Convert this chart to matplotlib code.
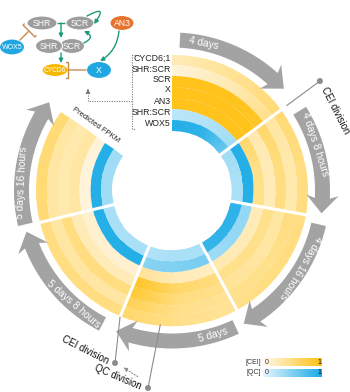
import numpy as np
import matplotlib

matplotlib.use("Agg")
import matplotlib.pyplot as plt
from matplotlib.colors import LinearSegmentedColormap
from matplotlib.patches import Wedge, Ellipse, Polygon, Circle, FancyArrowPatch

plt.rcParams["font.family"] = ["Liberation Sans", "DejaVu Sans"]

# ring order from outside to inside
genes = ["CYCD6;1", "SHR:SCR", "SCR", "X", "AN3", "SHR:SCR", "WOX5"]
stages = ["4 days", "4 days 8 hours", "4 days 16 hours", "5 days", "5 days 8 hours", "5 days 16 hours"]

# predicted FPKM (scaled 0-1), three samples per stage (start, middle, end of each sector)
cycd6 = [0.25, 0.4, 0.55, 0.55, 0.5, 0.5, 0.5, 0.5, 0.45, 0.4, 0.45, 0.6, 0.5, 0.5, 0.5, 0.55, 0.55, 0.55]
shr_scr = [0.1, 0.25, 0.45, 0.35, 0.3, 0.3, 0.5, 0.45, 0.45, 0.4, 0.45, 0.7, 0.35, 0.35, 0.35, 0.35, 0.35, 0.35]
scr = [0.95, 0.95, 0.9, 0.6, 0.5, 0.5, 0.35, 0.35, 0.4, 0.45, 0.5, 0.85, 0.5, 0.5, 0.5, 0.3, 0.3, 0.3]
x_gene = [0.95, 0.95, 0.95, 0.3, 0.25, 0.25, 0.45, 0.45, 0.45, 0.5, 0.6, 0.9, 0.25, 0.25, 0.25, 0.35, 0.35, 0.35]
an3 = [0.95, 0.95, 0.95, 0.6, 0.45, 0.45, 0.25, 0.25, 0.3, 0.2, 0.25, 0.4, 0.15, 0.15, 0.15, 0.1, 0.1, 0.1]
shr_scr_qc = [0.2, 0.25, 0.35, 0.95, 0.95, 0.95, 0.4, 0.4, 0.35, 0.55, 0.5, 0.45, 0.95, 0.95, 0.95, 0.95, 0.95, 0.95]
wox5 = [0.95, 0.9, 0.6, 0.35, 0.3, 0.3, 0.9, 0.9, 0.85, 0.3, 0.3, 0.25, 0.3, 0.3, 0.3, 0.35, 0.35, 0.35]

rings = [cycd6, shr_scr, scr, x_gene, an3, shr_scr_qc, wox5]
ring_domain = ["CEI", "CEI", "CEI", "CEI", "CEI", "QC", "QC"]

cei_cmap = LinearSegmentedColormap.from_list("cei", ["#fffaf0", "#ffc010"])
qc_cmap = LinearSegmentedColormap.from_list("qc", ["#e6f6fe", "#1aabe6"])

W, H = 350, 392
fig = plt.figure(figsize=(W / 100, H / 100), dpi=100)
ax = fig.add_axes([0, 0, 1, 1])
ax.set_xlim(0, W)
ax.set_ylim(0, H)
ax.set_aspect("equal")
ax.axis("off")


def P(x, y):
    # image pixel coords -> axes coords
    return (x, H - y)


cx, cy = P(172, 190.5)
r_inner, r_outer = 60, 136
ring_w = (r_outer - r_inner) / len(rings)
# sector borders, clockwise from the top
borders = [90, 36.5, -10.3, -61.5, -112.3, -166.4, -215.5]


def pol(r, a):
    a = np.radians(a)
    return cx + r * np.cos(a), cy + r * np.sin(a)


def sector(r_in, r_out, a0, a1, vals, cmap):
    n = len(vals)
    th = np.radians(np.linspace(a0, a1, n))
    half = abs(np.radians(a0 - a1)) / (n - 1) / 2
    R = np.array([r_in - 2, r_out / np.cos(half) + 1])
    X = cx + np.outer(R, np.cos(th))
    Y = cy + np.outer(R, np.sin(th))
    C = np.vstack([vals, vals])
    m = ax.pcolormesh(X, Y, C, shading="gouraud", cmap=cmap, vmin=0, vmax=1)
    clip = Wedge((cx, cy), r_out, a1, a0, width=r_out - r_in, transform=ax.transData)
    m.set_clip_path(clip)


k = 3
for i, vals in enumerate(rings):
    ro = r_outer - i * ring_w
    ri = ro - ring_w
    cmap = cei_cmap if ring_domain[i] == "CEI" else qc_cmap
    for s in range(len(stages)):
        sector(ri, ro, borders[s], borders[s + 1], vals[s * k:(s + 1) * k], cmap)

# white gaps between sectors
for a in borders[1:-1]:
    x0, y0 = pol(r_inner - 3, a)
    x1, y1 = pol(r_outer + 6, a)
    ax.plot([x0, x1], [y0, y1], color="white", lw=2.2, solid_capstyle="butt", zorder=3)

# grey stage arrows
grey = "#a3a3a3"
arrows = [
    (87, 48, 78, False),
    (32, -3, 18, False),
    (-13, -56, -31, False),
    (-65, -106, -74, True),
    (-117.5, -158.5, -131, True),
    (-167, -210, -183, False),
]
r1, r2 = 143, 158
rm = (r1 + r2) / 2
for (a0, ab, at, flip), lab in zip(arrows, stages):
    th = np.linspace(a0, ab, 80)
    outer = [pol(r2, t) for t in th]
    inner = [pol(r1, t) for t in th[::-1]]
    b = np.radians(ab)
    B = np.array(pol(rm, ab))
    T = np.array([np.sin(b), -np.cos(b)])
    N = np.array([np.cos(b), np.sin(b)])
    tip = B + T * 15
    bo = B + N * 16 - T * 3
    bi = B - N * 16 - T * 3
    pts = outer + [tuple(bo), tuple(tip), tuple(bi)] + inner
    ax.add_patch(Polygon(pts, closed=True, fc=grey, ec="none", zorder=2))
    tx, ty = pol(rm, at)
    rot = at + 90 if flip else at - 90
    ax.text(tx, ty, lab, color="white", fontsize=7.3, rotation=rot, rotation_mode="anchor",
            ha="center", va="center", zorder=4)

# division markers
x0, y0 = pol(143, 36.5)
x1, y1 = pol(184, 36.5)
ax.plot([x0, x1], [y0, y1], color="#8c8c8c", lw=0.8, zorder=3)
ax.add_patch(Circle((x1, y1), 3, fc="#8c8c8c", ec="none", zorder=4))
ax.text(*P(335, 110), "CEI division", fontsize=7, rotation=-63, ha="center", va="center", color="#111")

cei_pt = pol(r_outer + 1, -112.3)
ax.plot([cei_pt[0], P(115, 363)[0]], [cei_pt[1], P(115, 363)[1]], color="#8c8c8c", lw=0.8, zorder=3)
ax.add_patch(Circle(P(115, 363), 3, fc="#8c8c8c", ec="none", zorder=4))
qc_pt = pol(r_outer - 1, -95)
ax.plot([qc_pt[0], P(148, 388)[0]], [qc_pt[1], P(148, 388)[1]], color="#8c8c8c", lw=0.8, zorder=3)
ax.add_patch(Circle(P(148, 388), 3, fc="#8c8c8c", ec="none", zorder=4))
ax.annotate("", xy=P(121, 366), xytext=P(140, 378),
            arrowprops=dict(arrowstyle="-|>", color="#8c8c8c", lw=0.8, ls=":", mutation_scale=6))
ax.text(*P(85, 350), "CEI division", fontsize=7, rotation=-27, ha="center", va="center", color="#111")
ax.text(*P(118, 377), "QC division", fontsize=7, rotation=-23, ha="center", va="center", color="#111")

# ring labels
label_y = [58, 69, 79, 89, 101, 112, 123]
for g, yy in zip(genes, label_y):
    ax.text(*P(171, yy), g, fontsize=6.3, ha="right", va="center", color="#222")
ax.text(*P(96, 125), "Predicted FPKM", fontsize=5.5, rotation=-35.5, ha="center", va="center", color="#222")

dot = dict(color="#7a7a7a", lw=0.8, ls=(0, (1, 1.2)))
ax.plot(*zip(P(135, 55), P(132, 55), P(132, 129), P(135, 129)), **dot)
ax.plot(*zip(P(132, 101), P(88, 101), P(88, 92)), **dot)
ax.annotate("", xy=P(88, 86), xytext=P(88, 93),
            arrowprops=dict(arrowstyle="-|>", color="#7a7a7a", lw=0.8, mutation_scale=6))

# regulatory network sketch
nodes = [
    ("SHR", 42, 23, 30, 14, "#9d9d9d", 6.2),
    ("SCR", 80, 23, 28, 14, "#9d9d9d", 6.2),
    ("SCR", 72, 46, 25, 15, "#9d9d9d", 6.2),
    ("SHR", 49, 46, 27, 15, "#9d9d9d", 6.2),
    ("AN3", 122, 23, 24, 15, "#e8712b", 6.2),
    ("WOX5", 12, 47, 25, 16, "#1fa7e1", 5.0),
    ("CYCD6", 55, 70, 26, 13, "#f5b700", 4.8),
    ("X", 99, 70, 25, 17, "#1fa7e1", 6.2),
]
for name, nx, ny, nw, nh, col, fs in nodes:
    ax.add_patch(Ellipse(P(nx, ny), nw, nh, fc=col, ec="white", lw=0.8, zorder=5))
    ax.text(*P(nx, ny), name, fontsize=fs, color="white", ha="center", va="center", zorder=6)

green = "#1b9b7b"
brown = "#c98a50"
ax.plot(*zip(P(57, 23), P(66, 23)), color=green, lw=1, zorder=4)


def link(a, b, col=green, style="-|>", rad=0.0):
    ax.add_patch(FancyArrowPatch(P(*a), P(*b), arrowstyle=style, color=col, lw=1,
                                 mutation_scale=6, connectionstyle=f"arc3,rad={rad}",
                                 shrinkA=0, shrinkB=0, zorder=7))


link((61, 23), (61, 38))
link((61, 53), (61, 63))
link((87, 16), (94, 24), rad=-2.3)
link((84, 43), (84, 31), rad=1.0)
link((119, 31), (100, 61), rad=-0.25)
link((86, 70), (68, 70), col=brown, style="-[")
link((20, 40), (29, 31), col=brown, style="-[")

# colour key
for j, (lab, cmap) in enumerate([("[CEI]", cei_cmap), ("[QC]", qc_cmap)]):
    y0 = 358 + j * 11
    ax.imshow(np.linspace(0, 1, 100)[None, :], cmap=cmap, aspect="auto",
              extent=(263, 322, H - y0 - 8, H - y0), zorder=3)
    ax.text(*P(261, y0 + 4), lab, fontsize=5, ha="right", va="center", color="#333")
    ax.text(*P(267, y0 + 4), "0", fontsize=5, ha="center", va="center", color="#333", zorder=4)
    ax.text(*P(319, y0 + 4), "1", fontsize=5, ha="center", va="center", color="#111", zorder=4)

ax.set_xlim(0, W)
ax.set_ylim(0, H)
fig.savefig("out.png", dpi=100)
